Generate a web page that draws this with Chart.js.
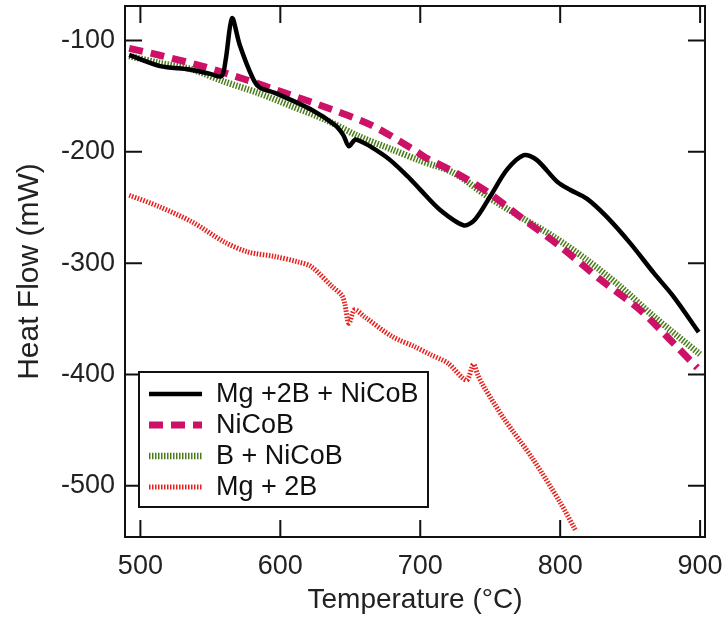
<!DOCTYPE html>
<html>
<head>
<meta charset="utf-8">
<script src="https://cdn.jsdelivr.net/npm/chart.js@4/dist/chart.umd.min.js"></script>
<style>
  html, body { margin: 0; padding: 0; background: #fff; }
  #wrap { width: 723px; height: 619px; }
</style>
</head>
<body>
<div id="wrap"><canvas id="dscChart"></canvas></div>
<script>
// values
const seriesNames = ["Mg +2B + NiCoB", "NiCoB", "B + NiCoB", "Mg + 2B"];

const tempMgBNiCoB = [492, 514, 535, 550, 558, 561, 565.5, 571, 580, 585, 596, 622, 639, 645, 649, 654, 675, 691, 700, 714, 731, 739, 750, 762, 774, 783, 798, 807, 819, 833, 850, 867, 881, 899];
const heatMgBNiCoB = [-113, -123, -126, -130, -132, -117, -80, -104, -133, -142, -147, -162, -176, -185, -195, -189, -204, -222, -234, -252, -266, -261, -240, -216, -203, -207, -227, -234, -242, -258, -282, -309, -330, -362];

const tempNiCoB = [492, 513, 544, 575, 603, 637, 665, 694, 705, 724, 748, 771, 800, 829, 857, 881, 898];
const heatNiCoB = [-107, -113, -123, -135, -147, -162, -176, -197, -206, -218, -236, -258, -285, -315, -342, -372, -394];

const tempBNiCoB = [492, 513, 537, 560, 584, 608, 632, 656, 680, 700, 724, 748, 771, 795, 819, 843, 867, 900];
const heatBNiCoB = [-114, -120, -126, -137, -147, -159, -171, -186, -198, -208, -219, -240, -258, -276, -297, -321, -348, -382];

const tempMg2B = [492, 513, 537, 560, 577, 596, 613, 622, 637, 644, 646, 649, 653, 660, 680, 696, 707, 720, 733, 738, 741, 745, 760, 780, 800, 811];
const heatMg2B = [-239, -249, -263, -281, -290, -294, -299, -303, -321, -329, -336, -354, -342, -348, -366, -375, -382, -390, -405, -391, -400, -410, -440, -475, -515, -540];

const xTicks = [500, 600, 700, 800, 900];
const yTicks = [-100, -200, -300, -400, -500];

const colors = ["#000000", "#cc1166", "#4a7d1a", "#e8201c"];
const widths = [4.5, 7, 6.5, 5];
const dashes = [[], [14, 8], [1.5, 1.5], [1.5, 1.5]];

const FONT = "'Liberation Sans', Arial, sans-serif";

function pts(xs, ys) {
  return xs.map((x, i) => ({ x: x, y: ys[i] }));
}

const seriesData = [
  pts(tempMgBNiCoB, heatMgBNiCoB),
  pts(tempNiCoB, heatNiCoB),
  pts(tempBNiCoB, heatBNiCoB),
  pts(tempMg2B, heatMg2B)
];

// frame + inward ticks on all four sides
const framePlugin = {
  id: 'frame',
  afterDatasetsDraw(chart) {
    const ctx = chart.ctx;
    const a = chart.chartArea;
    const xs = chart.scales.x, ys = chart.scales.y;
    const len = 17;
    ctx.save();
    ctx.strokeStyle = '#111';
    ctx.lineWidth = 2;
    ctx.strokeRect(a.left, a.top, a.right - a.left, a.bottom - a.top);
    ctx.beginPath();
    xTicks.forEach(v => {
      const px = xs.getPixelForValue(v);
      ctx.moveTo(px, a.bottom); ctx.lineTo(px, a.bottom - len);
      ctx.moveTo(px, a.top); ctx.lineTo(px, a.top + len);
    });
    yTicks.forEach(v => {
      const py = ys.getPixelForValue(v);
      ctx.moveTo(a.left, py); ctx.lineTo(a.left + len, py);
      ctx.moveTo(a.right, py); ctx.lineTo(a.right - len, py);
    });
    ctx.stroke();
    ctx.restore();
  }
};

// boxed legend inside the plot, lower left
const legendPlugin = {
  id: 'boxLegend',
  afterDraw(chart) {
    const ctx = chart.ctx;
    const bx = 139, by = 372, bw = 289, bh = 135;
    ctx.save();
    ctx.fillStyle = '#fff';
    ctx.fillRect(bx, by, bw, bh);
    ctx.strokeStyle = '#111';
    ctx.lineWidth = 2;
    ctx.strokeRect(bx, by, bw, bh);
    ctx.font = "27px " + FONT;
    ctx.textBaseline = 'middle';
    ctx.fillStyle = '#111';
    chart.data.datasets.forEach((ds, i) => {
      const y = by + 22 + i * 31;
      ctx.beginPath();
      ctx.strokeStyle = ds.borderColor;
      ctx.lineWidth = ds.borderWidth;
      ctx.setLineDash(ds.borderDash || []);
      ctx.moveTo(149, y);
      ctx.lineTo(202, y);
      ctx.stroke();
      ctx.setLineDash([]);
      ctx.fillText(ds.label, 216, y + 1);
    });
    ctx.restore();
  }
};

new Chart(document.getElementById('dscChart'), {
  type: 'line',
  data: {
    datasets: seriesNames.map((name, i) => ({
      label: name,
      data: seriesData[i],
      borderColor: colors[i],
      borderWidth: widths[i],
      borderDash: dashes[i],
      pointRadius: 0,
      tension: 0.3,
      fill: false
    }))
  },
  options: {
    responsive: true,
    maintainAspectRatio: false,
    animation: false,
    layout: { padding: { top: 6, right: 18, left: 0, bottom: 0 } },
    plugins: {
      legend: { display: false },
      tooltip: { enabled: false }
    },
    scales: {
      x: {
        type: 'linear',
        min: 489,
        max: 903.5,
        afterBuildTicks: s => { s.ticks = xTicks.map(v => ({ value: v })); },
        afterFit: s => { s.height = 82; s.paddingLeft = 0; s.paddingRight = 0; },
        grid: { display: false, drawTicks: false },
        border: { display: false },
        ticks: { color: '#222', font: { family: FONT, size: 27 }, padding: 13, maxRotation: 0 },
        title: { display: true, text: 'Temperature (°C)', color: '#222', font: { family: FONT, size: 28 }, padding: { top: 0, bottom: 2 } }
      },
      y: {
        type: 'linear',
        min: -546,
        max: -69,
        afterBuildTicks: s => { s.ticks = yTicks.map(v => ({ value: v })); },
        afterFit: s => { s.width = 125; s.paddingTop = 0; s.paddingBottom = 0; },
        grid: { display: false, drawTicks: false },
        border: { display: false },
        ticks: { color: '#222', font: { family: FONT, size: 27 }, padding: 10 },
        title: { display: true, text: 'Heat Flow (mW)', color: '#222', font: { family: FONT, size: 30 }, padding: { top: 12, bottom: 0 } }
      }
    }
  },
  plugins: [framePlugin, legendPlugin]
});
</script>
</body>
</html>
